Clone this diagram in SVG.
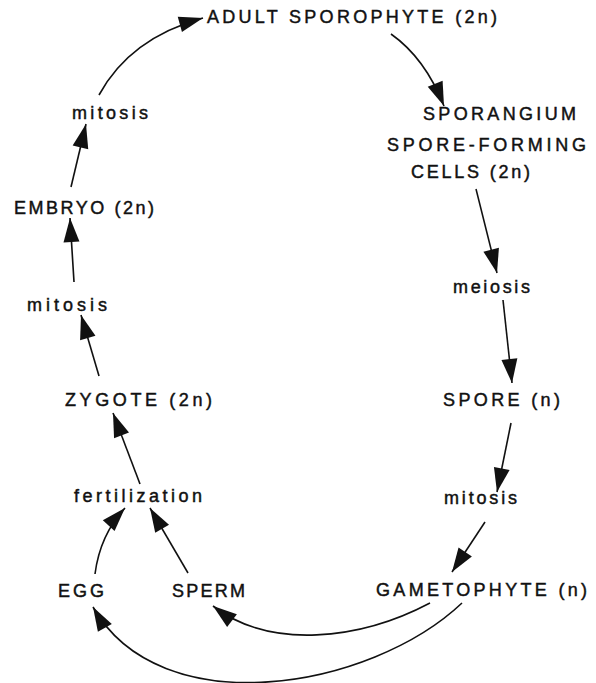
<svg xmlns="http://www.w3.org/2000/svg" width="596" height="683" viewBox="0 0 596 683">
  <style>
    text { font-family: "Liberation Sans", Arial, sans-serif; font-size: 18px; fill: #111; stroke: #111; stroke-width: 0.45; }
    .c { fill: none; stroke: #111; stroke-width: 1.6; }
  </style>
  <defs>
    <marker id="ah" viewBox="-25 -9 26 18" markerWidth="26" markerHeight="18" refX="0" refY="0" orient="auto" markerUnits="userSpaceOnUse">
      <path d="M0,0 L-24,-8 L-24,8 Z" fill="#111"/>
    </marker>
  </defs>
  <rect width="596" height="683" fill="#fff"/>
  <g id="connectors">
    <path class="c" d="M99,95 Q130,38 203,18" marker-end="url(#ah)"/>
    <path class="c" d="M391,34 Q425,58 444,106" marker-end="url(#ah)"/>
    <path class="c" d="M476,189 L497,273" marker-end="url(#ah)"/>
    <path class="c" d="M503,300 L512,383" marker-end="url(#ah)"/>
    <path class="c" d="M511,423 L497,492" marker-end="url(#ah)"/>
    <path class="c" d="M485,522 L452,572" marker-end="url(#ah)"/>
    <path class="c" d="M430,603 C360,640 270,650 213,606" marker-end="url(#ah)"/>
    <path class="c" d="M462,603 C370,690 160,725 93,607" marker-end="url(#ah)"/>
    <path class="c" d="M95,574 Q100,535 125,508" marker-end="url(#ah)"/>
    <path class="c" d="M188,573 L150,508" marker-end="url(#ah)"/>
    <path class="c" d="M140,484 L113,413" marker-end="url(#ah)"/>
    <path class="c" d="M99,376 L81,315" marker-end="url(#ah)"/>
    <path class="c" d="M74,282 L70,218" marker-end="url(#ah)"/>
    <path class="c" d="M71,187 L86,124" marker-end="url(#ah)"/>
  </g>
  <g id="adult-sporophyte"><text x="207" y="23" textLength="290" lengthAdjust="spacing">ADULT SPOROPHYTE (2n)</text></g>
  <g id="sporangium">
    <text x="423" y="120" textLength="153" lengthAdjust="spacing">SPORANGIUM</text>
    <text x="387" y="151" textLength="199" lengthAdjust="spacing">SPORE-FORMING</text>
    <text x="411" y="178" textLength="119" lengthAdjust="spacing">CELLS (2n)</text>
  </g>
  <g id="meiosis"><text x="453" y="293" textLength="77" lengthAdjust="spacing">meiosis</text></g>
  <g id="spore"><text x="443" y="406" textLength="117" lengthAdjust="spacing">SPORE (n)</text></g>
  <g id="mitosis-right"><text x="444" y="504" textLength="73" lengthAdjust="spacing">mitosis</text></g>
  <g id="gametophyte"><text x="376" y="596" textLength="211" lengthAdjust="spacing">GAMETOPHYTE (n)</text></g>
  <g id="egg"><text x="58" y="597" textLength="46" lengthAdjust="spacing">EGG</text></g>
  <g id="sperm"><text x="172" y="597" textLength="73" lengthAdjust="spacing">SPERM</text></g>
  <g id="fertilization"><text x="74" y="502" textLength="128" lengthAdjust="spacing">fertilization</text></g>
  <g id="zygote"><text x="65" y="406" textLength="147" lengthAdjust="spacing">ZYGOTE (2n)</text></g>
  <g id="mitosis-lower"><text x="27" y="311" textLength="80" lengthAdjust="spacing">mitosis</text></g>
  <g id="embryo"><text x="14" y="214" textLength="140" lengthAdjust="spacing">EMBRYO (2n)</text></g>
  <g id="mitosis-upper"><text x="72" y="119" textLength="76" lengthAdjust="spacing">mitosis</text></g>
</svg>
